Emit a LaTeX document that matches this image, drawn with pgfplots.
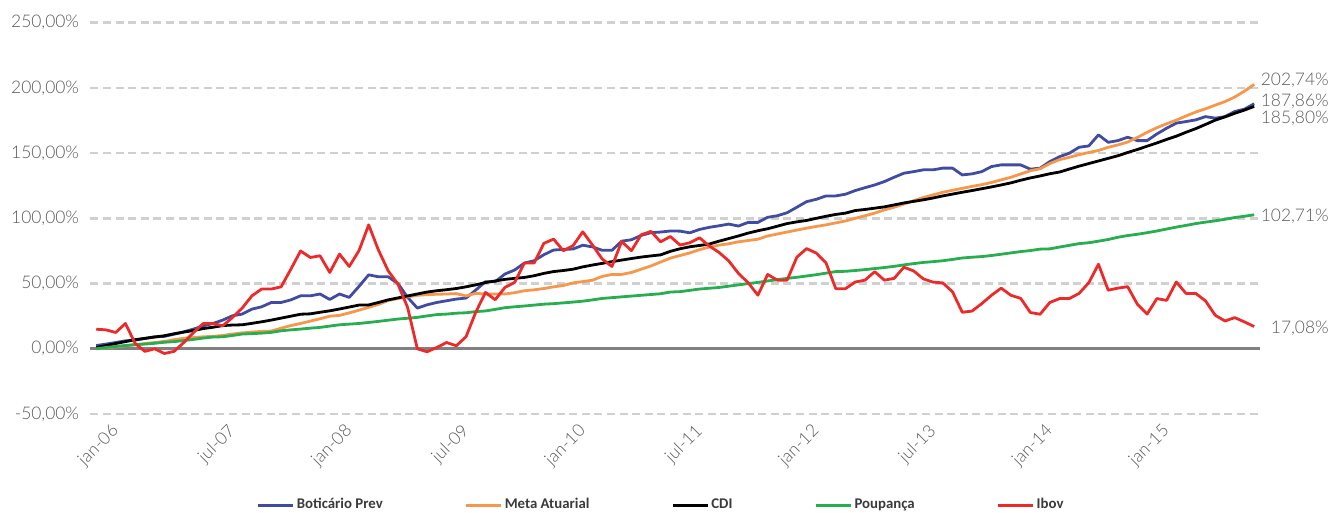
\documentclass[border=0pt]{standalone}
\usepackage{pgfplots}
\pgfplotsset{compat=1.18}
\usepackage{pgfplotstable}
\usepackage{fontspec}
\setmainfont{Lato Light}
\newfontfamily\legfont{Carlito}
\definecolor{cblue}{HTML}{3F4C9F}
\definecolor{corange}{HTML}{F7974C}
\definecolor{cgreen}{HTML}{27AE4F}
\definecolor{cred}{HTML}{EC2A2A}
\definecolor{cgrid}{HTML}{D0D0D0}
\definecolor{ctext}{HTML}{595959}
\definecolor{cleg}{HTML}{3A3A3A}
\definecolor{czero}{HTML}{808080}
\pgfplotstableread{
i bot meta cdi poup ibov
0 2.5 0 1 0 15
1 3.6 0.8 2.5 1 14.5
2 4.8 1.5 4 1.8 12.5
3 6.1 2.3 5.5 2.5 19.4
4 6.6 3 7 3.2 4.1
5 7.9 4 8 3.6 -2
6 9.2 4.8 9 4.2 0
7 9.5 5.6 10 5 -3.6
8 11.2 7 11.5 5.5 -2
9 13 8 12.8 6.3 4.8
10 15.1 8.6 14 7.2 12.5
11 17.6 9.2 15.5 8.2 19.4
12 19.4 9.5 16.5 9 19.4
13 22 10.2 17.8 9.2 17.6
14 25.3 11.3 18.2 10.2 24
15 26.6 12.2 18.4 11.3 31.2
16 30.4 12.8 19.5 11.6 40.6
17 32.2 13.3 20.7 12 45.8
18 35.5 13.6 22 12.6 45.8
19 35.5 15.8 23.5 13.8 47.5
20 37.5 17.8 25 14.5 61
21 40.6 19.4 26.5 15.1 75
22 40.6 21.2 26.8 15.8 70
23 42 23 28 16.4 71.3
24 37.8 25 29.1 17.4 58.5
25 42 25.6 30.5 18.4 72.6
26 39.4 27.5 32 18.9 63.1
27 47.8 29.6 33.5 19.4 75.2
28 56.7 31.8 33.6 20.2 95
29 55.2 34 35.5 21 75.7
30 55.2 37 37.5 21.9 59.8
31 50.1 38.5 39 22.8 49.6
32 39.4 39.8 40.5 23.4 31.7
33 31.2 41 42 24.1 0
34 33.7 41.5 43.5 25.2 -2.3
35 35.5 41.8 44.5 26.2 1
36 36.8 42 45.3 26.6 4.8
37 38.1 42.3 46.2 27.3 2.3
38 38.9 40.5 47.5 27.6 9.2
39 45 42.5 49 28.5 28
40 51.4 42 50.8 29 43.2
41 51.4 42 52 30.2 37.6
42 57.3 42 53.2 31.5 47
43 60.4 43 54 32.2 50.9
44 65.7 44.5 54.7 32.8 65.7
45 67.5 45.2 56 33.5 65.7
46 72.1 46.2 57.8 34.2 80.8
47 75.7 47.5 59.2 34.6 84.1
48 76.2 48.5 60 35.2 75.2
49 76.5 50.5 61 35.8 79
50 79.4 51.5 62.8 36.5 89.7
51 78.1 52.6 64.2 37.5 79.5
52 75.5 55.5 65.5 38.6 68.8
53 75.5 57 66.8 39.2 63.1
54 82.5 57 68 39.8 82.3
55 83.6 58.5 69.2 40.4 75.2
56 86.9 61 70.3 41 87.4
57 89 63.5 71.2 41.6 90
58 89.5 66.5 72 42.2 82
59 90.3 69.5 74.7 43.5 86.1
60 90.2 71.5 76.7 43.8 79.5
61 88.9 73.5 78.2 44.8 81.3
62 91.5 76 79.2 45.8 85.1
63 93.1 78 80.3 46.4 78.8
64 94.3 79.5 82.5 47 73.9
65 95.6 80.5 84.5 48 67.4
66 94.1 82 86.5 49 57.8
67 96.9 83 88.7 50 50.6
68 96.9 84 90.5 50.9 41.1
69 100.8 86.5 92 52 57
70 102 88 94 53 52.6
71 104.3 89.5 96 54 52.6
72 108.5 91 97.3 54.8 70.2
73 112.8 92.5 98.4 55.8 76.8
74 114.6 93.8 100 56.8 73.4
75 117.2 95 101.6 58 65.8
76 117.2 96.5 103 59.2 46.1
77 118.5 98 104 59.4 46.1
78 121.3 100 106 60 51.2
79 123.5 102 106.8 60.7 52.6
80 125.6 104 107.8 61.5 59.1
81 128.2 106.5 108.8 62.3 52.6
82 131.5 108.5 110.3 63.2 54
83 134.6 111 111.8 64.3 62.5
84 135.8 113.5 113 65.3 59.7
85 137.2 116 114.2 66.2 53.6
86 137.2 118 115.6 66.8 51.1
87 138.5 120 117.2 67.5 50.5
88 138.5 121.5 118.6 68.5 43.7
89 133.3 123 120 69.6 28
90 134.1 124.5 121.3 70.2 28.9
91 135.8 125.8 122.7 70.7 34.6
92 139.7 127.5 124.1 71.5 41
93 141 129.5 125.6 72.5 46.5
94 141 131.5 127.2 73.5 41
95 141 134 129.2 74.5 38.7
96 137.7 136.5 131 75.3 27.8
97 138.5 138 132.5 76.4 26.5
98 143.5 142 134.2 76.6 35.5
99 147.3 145 135.5 78 38.5
100 149.9 146.8 137.8 79.3 38.5
101 154.5 148.8 140 80.6 42.4
102 155.5 150.5 142 81.3 50.6
103 164 152 144 82.5 64.8
104 158.3 154.5 146 83.8 44.9
105 159.6 156.3 148 85.5 46.5
106 162.2 158.5 150.5 86.8 47.6
107 159.6 162 152.8 87.8 34.1
108 159.6 166 155.3 89 26.6
109 164.7 169.5 157.8 90.3 38.5
110 169.1 172.5 160.5 91.8 37.1
111 173 175.3 163 93.3 51.2
112 174.2 178.5 166 94.6 42.4
113 175.5 181.5 168.8 96 42.4
114 178 184 172 97.1 36.7
115 176.8 186.8 175.3 98.1 25.7
116 178 189.5 177.8 99.3 21.3
117 181.9 193 180.5 100.6 23.9
118 183.7 197.5 183 101.6 20.6
119 187.86 202.74 185.8 102.71 17.08
}\datatable
\begin{document}
\begin{tikzpicture}
\path[use as bounding box] (0pt,0pt) rectangle (665.5pt,256.5pt);
\begin{axis}[
  at={(45.2pt,49.5pt)}, anchor=south west,
  scale only axis, width=584.8pt, height=195.65pt,
  xmin=-0.6, xmax=119.6, ymin=-50, ymax=250,
  clip=false,
  axis line style={draw=none},
  major tick length=0pt, tick style={draw=none},
  ytick={-50,0,50,100,150,200,250},
  yticklabels={{-50,00\%},{0,00\%},{50,00\%},{100,00\%},{150,00\%},{200,00\%},{250,00\%}},
  xtick={0,12,24,36,48,60,72,84,96,108},
  xticklabels={jan-06,jul-07,jan-08,jul-09,jan-10,jul-11,jan-12,jul-13,jan-14,jan-15},
  ymajorgrids,
  major grid style={draw=cgrid, line width=1.3pt, dash pattern=on 4pt off 2.3pt},
  ticklabel style={font=\fontsize{8.7}{10}\selectfont, text=ctext},
  yticklabel style={anchor=east, inner sep=0pt, xshift=-5.5pt},
  xticklabel style={rotate=45, anchor=north east, inner sep=0pt, yshift=-8pt, xshift=2pt},
  legend columns=5,
  legend cell align=left,
  legend style={at={(0.142,-0.2326)}, anchor=west, draw=none, fill=none,
    inner sep=0pt, font=\legfont\bfseries\fontsize{7.4}{9}\selectfont, text=cleg,
    nodes={inner sep=1pt},
    /tikz/every even column/.append style={column sep=40pt}},
  legend image code/.code={\draw[#1, line width=1.5pt] (0pt,0pt) -- (17.5pt,0pt);},
  every axis plot/.append style={line width=1.4pt, line join=round},
]
\draw[czero, line width=1.3pt] (axis cs:-0.6,0) -- (axis cs:119.6,0);
\addplot[cblue, no markers] table[x=i, y=bot] {\datatable};
\addlegendentry{Boticário Prev}
\addplot[corange, no markers] table[x=i, y=meta] {\datatable};
\addlegendentry{Meta Atuarial}
\addplot[black, no markers] table[x=i, y=cdi] {\datatable};
\addlegendentry{CDI}
\addplot[cgreen, no markers] table[x=i, y=poup] {\datatable};
\addlegendentry{Poupança}
\addplot[cred, no markers] table[x=i, y=ibov] {\datatable};
\addlegendentry{Ibov}
\begin{scope}[every node/.style={anchor=east, inner sep=0pt, text=ctext, font=\fontsize{8.7}{10}\selectfont}]
\node at (axis cs:126.7,206.1) {202,74\%};
\node at (axis cs:126.7,189.9) {187,86\%};
\node at (axis cs:126.7,176.9) {185,80\%};
\node at (axis cs:126.7,101.3) {102,71\%};
\node at (axis cs:126.7,15.7) {17,08\%};
\end{scope}
\end{axis}
\end{tikzpicture}
\end{document}
